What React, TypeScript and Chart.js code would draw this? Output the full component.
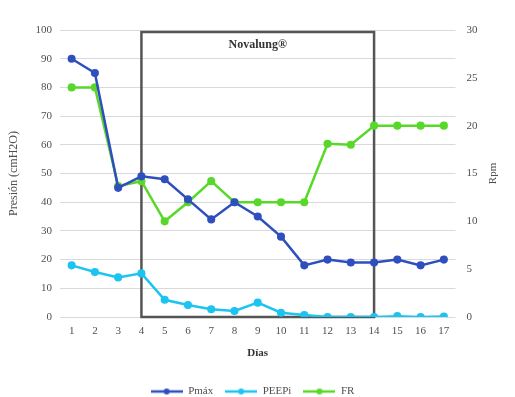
import React, { useEffect, useRef } from 'react';
import { Chart, registerables } from 'chart.js';

Chart.register(...registerables);

const days = ['1', '2', '3', '4', '5', '6', '7', '8', '9', '10', '11', '12', '13', '14', '15', '16', '17'];
const pmax = [90, 85, 45, 49, 48, 41, 34, 40, 35, 28, 18, 20, 19, 19, 20, 18, 20];
const peepi = [18, 15.7, 13.8, 15.2, 6, 4.2, 2.7, 2.1, 5, 1.5, 0.7, 0, 0, 0, 0.3, 0, 0.2];
const fr = [24, 24, 13.7, 14.2, 10, 12, 14.2, 12, 12, 12, 12, 18.1, 18, 20, 20, 20, 20];
const leftTicks = [0, 10, 20, 30, 40, 50, 60, 70, 80, 90, 100];
const rightTicks = [0, 5, 10, 15, 20, 25, 30];

const BLUE = '#2f4fbf';
const CYAN = '#1cc4f0';
const GREEN = '#58d828';
const TEXT = '#4f4f4f';
const FONT = '"Liberation Serif", "DejaVu Serif", serif';

function makeMarker(color: string) {
  const c = document.createElement('canvas');
  c.width = 32;
  c.height = 8;
  const ctx = c.getContext('2d')!;
  ctx.strokeStyle = color;
  ctx.lineWidth = 2.5;
  ctx.beginPath();
  ctx.moveTo(0, 4);
  ctx.lineTo(32, 4);
  ctx.stroke();
  ctx.fillStyle = color;
  ctx.beginPath();
  ctx.arc(16, 4, 3, 0, Math.PI * 2);
  ctx.fill();
  return c;
}

const boxPlugin = {
  id: 'novalungBox',
  beforeDatasetsDraw(chart: any) {
    const x = chart.scales.x;
    const y = chart.scales.y;
    const ctx = chart.ctx;
    const x0 = x.getPixelForValue(3);
    const x1 = x.getPixelForValue(13);
    const y0 = y.getPixelForValue(99.3);
    const y1 = y.getPixelForValue(0);
    ctx.save();
    ctx.strokeStyle = '#555555';
    ctx.lineWidth = 2.5;
    ctx.strokeRect(x0, y0, x1 - x0, y1 - y0);
    ctx.fillStyle = '#333333';
    ctx.font = 'bold 12px ' + FONT;
    ctx.textAlign = 'center';
    ctx.textBaseline = 'middle';
    ctx.fillText('Novalung®', (x0 + x1) / 2, y0 + 13);
    ctx.restore();
  },
  afterDraw(chart: any) {
    const ctx = chart.ctx;
    const area = chart.chartArea;
    ctx.save();
    ctx.fillStyle = TEXT;
    ctx.font = '11px ' + FONT;
    ctx.translate(493, (area.top + area.bottom) / 2);
    ctx.rotate(-Math.PI / 2);
    ctx.textAlign = 'center';
    ctx.textBaseline = 'middle';
    ctx.fillText('Rpm', 0, 0);
    ctx.restore();
  },
};

export default function App() {
  const ref = useRef<HTMLCanvasElement>(null);
  useEffect(() => {
    document.body.style.margin = '0';
    const markers = [makeMarker(BLUE), makeMarker(CYAN), makeMarker(GREEN)];
    const chart = new Chart(ref.current!, {
      type: 'line',
      data: {
        labels: days,
        datasets: [
          { label: 'Pmáx', data: pmax, borderColor: BLUE, backgroundColor: BLUE, yAxisID: 'y', borderWidth: 2.5, pointRadius: 2.8, pointHoverRadius: 2.8 },
          { label: 'PEEPi', data: peepi, borderColor: CYAN, backgroundColor: CYAN, yAxisID: 'y', borderWidth: 2.5, pointRadius: 2.8, pointHoverRadius: 2.8 },
          { label: 'FR', data: fr, borderColor: GREEN, backgroundColor: GREEN, yAxisID: 'y1', borderWidth: 2.5, pointRadius: 2.8, pointHoverRadius: 2.8 },
        ],
      },
      options: {
        responsive: false,
        animation: false,
        layout: { padding: { top: 30, right: 10, left: 0, bottom: -10 } },
        plugins: {
          tooltip: { enabled: false },
          legend: {
            position: 'bottom',
            labels: {
              usePointStyle: true,
              pointStyleWidth: 32,
              padding: 12,
              color: TEXT,
              font: { family: FONT, size: 11 },
              generateLabels: (c: any) => {
                const items = (Chart.defaults.plugins.legend.labels as any).generateLabels(c);
                return items.map((it: any, i: number) => ({ ...it, pointStyle: markers[i] }));
              },
            },
          },
        },
        scales: {
          x: {
            offset: true,
            grid: { display: false, drawTicks: false },
            border: { display: false },
            ticks: { color: TEXT, font: { family: FONT, size: 11 }, padding: 8 },
            title: { display: true, text: 'Días', color: '#333333', font: { family: FONT, size: 11, weight: 'bold' }, padding: { top: 4, bottom: 14 } },
            afterFit: (s: any) => { s.height = 57; },
          },
          y: {
            position: 'left',
            min: 0,
            max: 100,
            afterBuildTicks: (s: any) => { s.ticks = leftTicks.map((v) => ({ value: v })); },
            grid: { color: '#d9d9d9', lineWidth: 1, drawTicks: false },
            border: { display: false },
            ticks: { color: TEXT, font: { family: FONT, size: 11 }, padding: 8 },
            title: { display: true, text: 'Presión (cmH2O)', color: TEXT, font: { family: FONT, size: 12 }, padding: { top: 7, bottom: 0 } },
            afterFit: (s: any) => { s.width = 60; },
          },
          y1: {
            position: 'right',
            min: 0,
            max: 30,
            afterBuildTicks: (s: any) => { s.ticks = rightTicks.map((v) => ({ value: v })); },
            grid: { display: false, drawTicks: false },
            border: { display: false },
            ticks: { color: TEXT, font: { family: FONT, size: 11 }, padding: 11 },
            afterFit: (s: any) => { s.width = 49.5; },
          },
        },
      },
      plugins: [boxPlugin],
    });
    return () => chart.destroy();
  }, []);
  return (
    <div style={{ width: 515, height: 397 }}>
      <canvas ref={ref} width={515} height={397} />
    </div>
  );
}
